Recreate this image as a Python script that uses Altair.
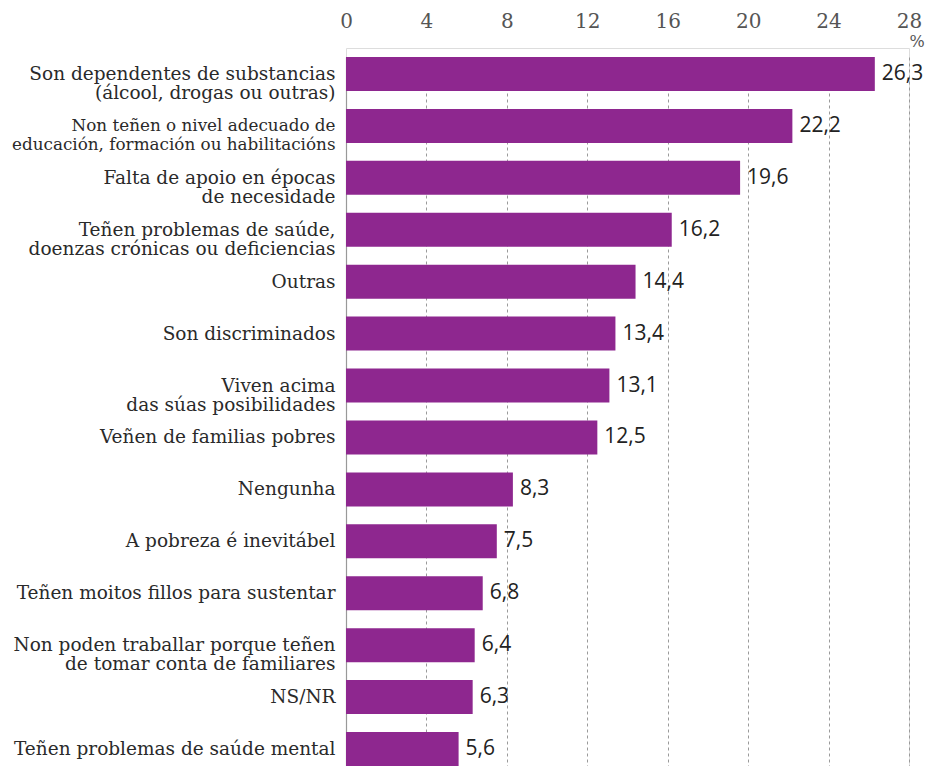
import altair as alt
import pandas as pd

categories = [
    "Son dependentes de substancias|(álcool, drogas ou outras)",
    "Non teñen o nivel adecuado de|educación, formación ou habilitacións",
    "Falta de apoio en épocas|de necesidade",
    "Teñen problemas de saúde,|doenzas crónicas ou deficiencias",
    "Outras",
    "Son discriminados",
    "Viven acima|das súas posibilidades",
    "Veñen de familias pobres",
    "Nengunha",
    "A pobreza é inevitábel",
    "Teñen moitos fillos para sustentar",
    "Non poden traballar porque teñen|de tomar conta de familiares",
    "NS/NR",
    "Teñen problemas de saúde mental",
]
values = [26.3, 22.2, 19.6, 16.2, 14.4, 13.4, 13.1, 12.5, 8.3, 7.5, 6.8, 6.4, 6.3, 5.6]
x_ticks = [0, 4, 8, 12, 16, 20, 24, 28]

df = pd.DataFrame({"cat": categories, "value": values})
df["label"] = [f"{v:.1f}".replace(".", ",") for v in values]

PURPLE = "#8E278F"

x_scale = alt.Scale(domain=[0, 28], nice=False, zero=True)
y_scale = alt.Scale(range=[9, 718], paddingInner=0.345, paddingOuter=0)

y_enc = alt.Y(
    "cat:N",
    sort=categories,
    scale=y_scale,
    axis=alt.Axis(
        title=None,
        labelExpr="split(datum.label, '|')",
        labelFont="DejaVu Serif",
        labelFontSize=alt.condition(
            "indexof(datum.value, 'habilitacións') >= 0", alt.value(16.8), alt.value(18.5)
        ),
        labelLineHeight=19,
        labelColor="#2a2a2a",
        labelPadding=11,
        labelLimit=400,
        ticks=False,
        domain=True,
        domainColor="#999999",
        domainWidth=1.2,
        grid=False,
    ),
)

bars = alt.Chart(df).mark_bar(color=PURPLE).encode(
    x=alt.X(
        "value:Q",
        scale=x_scale,
        axis=alt.Axis(
            orient="top",
            title=None,
            values=x_ticks,
            labelFont="DejaVu Serif",
            labelFontSize=20,
            labelColor="#555555",
            labelPadding=17,
            labelFlush=False,
            ticks=False,
            domain=False,
            grid=True,
            gridColor="#9a9a9a",
            gridDash=[3, 3],
            gridWidth=1,
        ),
    ),
    y=y_enc,
)

texts = alt.Chart(df).mark_text(
    align="left", baseline="middle", dx=7, font="Open Sans", fontSize=21, color="#222222"
).encode(
    x=alt.X("value:Q", scale=x_scale),
    y=alt.Y("cat:N", sort=categories),
    text="label:N",
)

pct = alt.Chart(pd.DataFrame({"t": ["%"]})).mark_text(
    align="center", baseline="middle", font="DejaVu Serif", fontSize=16, color="#555555", dx=8
).encode(
    x=alt.datum(28, scale=x_scale),
    y=alt.value(-6),
    text="t:N",
)

chart = (
    alt.layer(bars, texts, pct)
    .properties(
        width=563,
        height=718,
        autosize=alt.AutoSizeParams(type="none"),
        padding={"left": 338, "top": 40, "right": 16, "bottom": 0},
    )
    .configure_view(stroke=None)
    .configure(background="white")
)

chart.save("out.html", embed_options={"renderer": "svg", "actions": False})
